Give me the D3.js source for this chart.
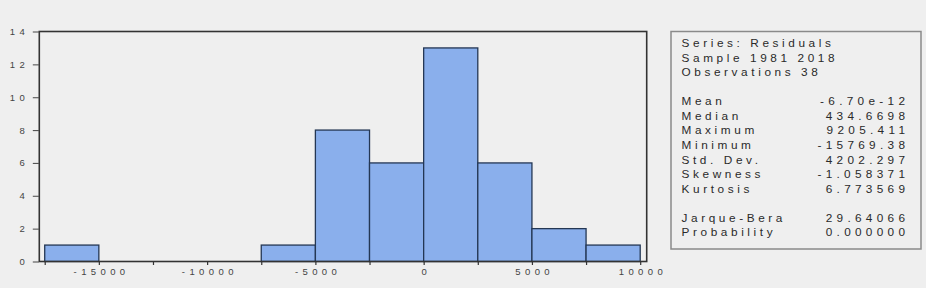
<!DOCTYPE html>
<html>
<head>
<meta charset="utf-8">
<script src="https://cdn.jsdelivr.net/npm/d3@7"></script>
<style>
  html, body { margin: 0; padding: 0; background: #efefef; }
  svg { display: block; }
  text { font-family: "Liberation Sans", Arial, sans-serif; }
</style>
</head>
<body>
<svg id="chart" width="926" height="288"></svg>
<script>
// ---- data ----
const binStarts = [-17500, -15000, -12500, -10000, -7500, -5000, -2500, 0, 2500, 5000, 7500];
const binWidth = 2500;
const counts = [1, 0, 0, 0, 1, 8, 6, 13, 6, 2, 1];
const xTickValues = [-15000, -10000, -5000, 0, 5000, 10000];
const xMinorTicks = [-17500, -15000, -12500, -10000, -7500, -5000, -2500, 0, 2500, 5000, 7500, 10000];
const yTickValues = [0, 2, 4, 6, 8, 10, 12, 14];
const headerLines = ["Series: Residuals", "Sample 1981 2018", "Observations 38"];
const statLabels = ["Mean", "Median", "Maximum", "Minimum", "Std. Dev.", "Skewness", "Kurtosis"];
const statValues = ["-6.70e-12", "434.6698", "9205.411", "-15769.38", "4202.297", "-1.058371", "6.773569"];
const testLabels = ["Jarque-Bera", "Probability"];
const testValues = ["29.64066", "0.000000"];

// ---- layout ----
const svg = d3.select("#chart");
const L = 39.3, R = 646.7, T = 31.5, B = 261.5;
const x = d3.scaleLinear().domain([-17750, 10300]).range([L, R]);
const y = d3.scaleLinear().domain([0, 14]).range([B, T]);

const axisColor = "#333";
const tickFont = 9.5, tickSpacing = 4.4;

// bars
const bins = binStarts.map((s, i) => ({ x0: s, x1: s + binWidth, n: counts[i] })).filter(d => d.n > 0);
svg.append("g").selectAll("rect").data(bins).join("rect")
  .attr("x", d => x(d.x0))
  .attr("y", d => y(d.n))
  .attr("width", d => x(d.x1) - x(d.x0))
  .attr("height", d => y(0) - y(d.n))
  .attr("fill", "#8aafec")
  .attr("stroke", "#243754")
  .attr("stroke-width", 1.3);

// x axis (ticks at every bin edge, labels at majors)
const xAxis = d3.axisBottom(x).tickValues(xMinorTicks).tickSize(3.5).tickSizeOuter(0)
  .tickFormat(d => xTickValues.includes(d) ? String(d) : "");
const gx = svg.append("g").attr("transform", `translate(0,${B})`).call(xAxis);
gx.select(".domain").remove();
gx.selectAll(".tick line").attr("stroke", axisColor).attr("stroke-width", 1.2);
gx.selectAll(".tick text")
  .attr("y", 6.5).attr("dy", "0.71em")
  .attr("fill", "#444")
  .style("font-size", tickFont + "px")
  .style("letter-spacing", tickSpacing + "px")
  .attr("dx", tickSpacing / 2);

// y axis
const yAxis = d3.axisLeft(y).tickValues(yTickValues).tickSize(6).tickSizeOuter(0).tickFormat(d => String(d));
const gy = svg.append("g").attr("transform", `translate(${L - 0.5},0)`).call(yAxis);
gy.select(".domain").remove();
gy.selectAll(".tick line").attr("stroke", "#555").attr("stroke-width", 1.1);
gy.selectAll(".tick text")
  .attr("x", -14 + tickSpacing)
  .attr("fill", "#444")
  .style("font-size", tickFont + "px")
  .style("letter-spacing", tickSpacing + "px");

// frame
svg.append("rect")
  .attr("x", L).attr("y", T)
  .attr("width", R - L).attr("height", B - T)
  .attr("fill", "none")
  .attr("stroke", axisColor)
  .attr("stroke-width", 1.6);

// ---- stats box ----
const bx = 671, by = 31.5, bw = 250, bh = 217.5;
svg.append("rect").attr("x", bx).attr("y", by).attr("width", bw).attr("height", bh)
  .attr("fill", "none").attr("stroke", "#8a8a8a").attr("stroke-width", 1.5);

const sFont = 11.8, labSpacing = 3.6, valSpacing = 4.3;
const labelX = 681.5, valueX = 905;
const rows = [];
headerLines.forEach((t, i) => rows.push({ label: t, value: null, yc: 42.7 + i * 14.8 }));
statLabels.forEach((t, i) => rows.push({ label: t, value: statValues[i], yc: 101 + i * 14.6 }));
testLabels.forEach((t, i) => rows.push({ label: t, value: testValues[i], yc: 217.7 + i * 14.6 }));

const g = svg.append("g").style("font-size", sFont + "px").attr("fill", "#2a2a2a");
g.selectAll("text.lab").data(rows).join("text").attr("class", "lab")
  .attr("x", labelX).attr("y", d => d.yc).attr("dy", "0.35em")
  .style("letter-spacing", labSpacing + "px")
  .text(d => d.label);
g.selectAll("text.val").data(rows.filter(d => d.value)).join("text").attr("class", "val")
  .attr("x", valueX + valSpacing).attr("y", d => d.yc).attr("dy", "0.35em")
  .attr("text-anchor", "end")
  .style("letter-spacing", valSpacing + "px")
  .text(d => d.value);
</script>
</body>
</html>
